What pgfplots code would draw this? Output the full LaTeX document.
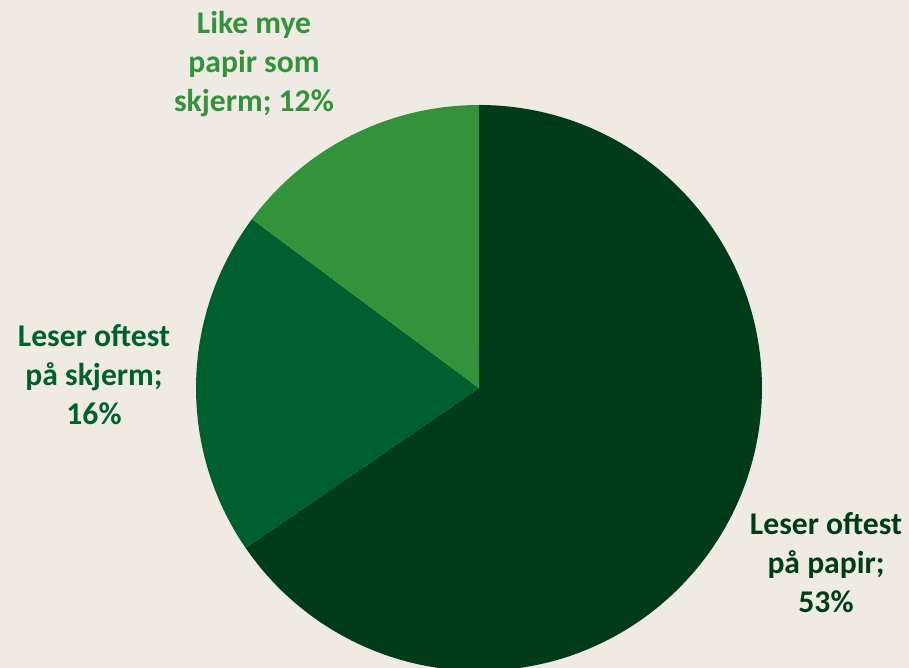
\documentclass[border=0pt]{standalone}
\usepackage{pgfplots}
\pgfplotsset{compat=1.18}
\usepackage{pgfplotstable}
\usepackage{fontspec}
\setmainfont{Carlito}
\definecolor{bg}{HTML}{EFEBE4}
\definecolor{cdark}{HTML}{003C19}
\definecolor{cmid}{HTML}{005F2F}
\definecolor{clight}{HTML}{33933B}
\pgfplotstableread{
label value
papir 53
skjerm 16
likemye 12
}\piedata
\begin{document}
\begin{tikzpicture}
\begin{axis}[
  x=0.02cm, y=0.02cm,
  xmin=0, xmax=909, ymin=0, ymax=668,
  hide axis, clip=true,
]
\fill[bg] (axis cs:0,0) rectangle (axis cs:909,668);
\pgfplotstablegetelem{0}{value}\of\piedata \let\va\pgfplotsretval
\pgfplotstablegetelem{1}{value}\of\piedata \let\vb\pgfplotsretval
\pgfplotstablegetelem{2}{value}\of\piedata \let\vc\pgfplotsretval
\pgfmathsetmacro{\tot}{\va+\vb+\vc}
\pgfmathsetmacro{\angA}{90-\va/\tot*360}
\pgfmathsetmacro{\angB}{\angA-\vb/\tot*360}
\def\cx{479}\def\cy{280}\def\R{283}
\fill[cdark] (axis cs:\cx,\cy) -- (axis cs:{\cx+\R*cos(90)},{\cy+\R*sin(90)}) arc[start angle=90, end angle=\angA, radius=5.66cm] -- cycle;
\fill[cmid] (axis cs:\cx,\cy) -- (axis cs:{\cx+\R*cos(\angA)},{\cy+\R*sin(\angA)}) arc[start angle=\angA, end angle=\angB, radius=5.66cm] -- cycle;
\fill[clight] (axis cs:\cx,\cy) -- (axis cs:{\cx+\R*cos(\angB)},{\cy+\R*sin(\angB)}) arc[start angle=\angB, end angle=-270, radius=5.66cm] -- cycle;
\node[align=center, font=\bfseries\fontsize{18}{22.2}\selectfont, text=clight] at (axis cs:254,604) {Like mye\\papir som\\skjerm; 12\%};
\node[align=center, font=\bfseries\fontsize{18}{22.2}\selectfont, text=cmid] at (axis cs:94,293) {Leser oftest\\på skjerm;\\16\%};
\node[align=center, font=\bfseries\fontsize{18}{22.2}\selectfont, text=cdark] at (axis cs:826,105) {Leser oftest\\på papir;\\53\%};
\end{axis}
\end{tikzpicture}
\end{document}
